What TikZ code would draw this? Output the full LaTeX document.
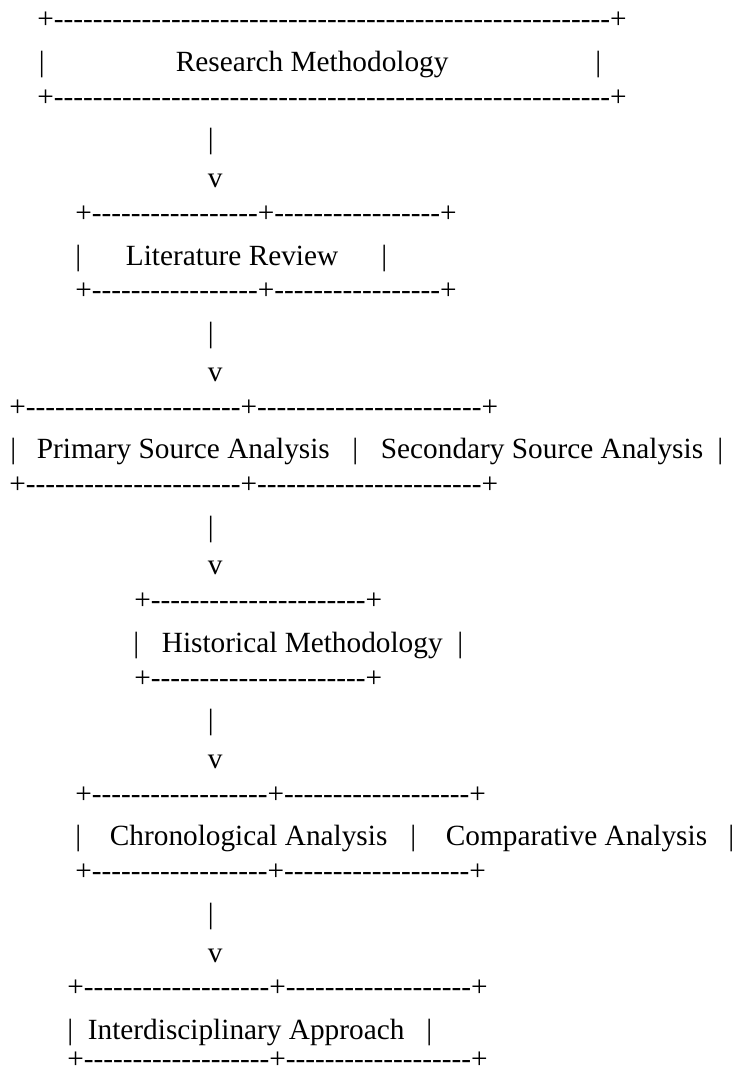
\documentclass[tikz,border=0pt]{standalone}
\usepackage{fontspec}
\setmainfont{Liberation Serif}[Ligatures=TeXOff]
\newcommand{\dashrun}[1]{\foreach\d in {1,...,#1}{-}}

\begin{document}
\begin{tikzpicture}[
    x=0.5pt, y=-0.5pt,
    txt/.style={anchor=base west, inner sep=0pt, font=\fontsize{14.65}{17}\selectfont},
    border/.style={txt, yshift=2pt},
    pipe/.style={txt},
    tip/.style={txt}
  ]
    \useasboundingbox (0,0) rectangle (736,1074);

    \node[border] (rm-top)   at (37,32.8)    {+\dashrun{57}+};
    \node[pipe]   (rm-l)     at (38.6,71.5)  {|};
    \node[txt]    (rm)       at (175.5,71.5) {Research Methodology};
    \node[pipe]   (rm-r)     at (595,71.5)   {|};
    \node[border] (rm-bot)   at (37,110.2)   {+\dashrun{57}+};
    \node[pipe]   (stem1)    at (207.5,149)  {|};
    \node[tip]    (tip1)     at (207.5,187.7) {v};

    \node[border] (lr-top)   at (75,226.4)   {+\dashrun{17}+\dashrun{17}+};
    \node[pipe]   (lr-l)     at (75,265.1)   {|};
    \node[txt]    (lr)       at (125.5,265.1) {Literature Review};
    \node[pipe]   (lr-r)     at (381,265.1)  {|};
    \node[border] (lr-bot)   at (75,303.8)   {+\dashrun{17}+\dashrun{17}+};
    \node[pipe]   (stem2)    at (207.5,342.6) {|};
    \node[tip]    (tip2)     at (207.5,381.3) {v};

    \node[border] (src-top)  at (9,420)      {+\dashrun{22}+\dashrun{23}+};
    \node[pipe]   (src-l)    at (10,458.7)   {|};
    \node[txt]    (prim)     at (36.5,458.7) {Primary Source Analysis};
    \node[pipe]   (src-m)    at (352,458.7)  {|};
    \node[txt]    (sec)      at (380.5,458.7) {Secondary Source Analysis};
    \node[pipe]   (src-r)    at (717,458.7)  {|};
    \node[border] (src-bot)  at (9,497.4)    {+\dashrun{22}+\dashrun{23}+};
    \node[pipe]   (stem3)    at (207.5,536.2) {|};
    \node[tip]    (tip3)     at (207.5,574.9) {v};

    \node[border] (hm-top)   at (134,613.6)  {+\dashrun{22}+};
    \node[pipe]   (hm-l)     at (133,652.3)  {|};
    \node[txt]    (hm)       at (161.5,652.3) {Historical Methodology};
    \node[pipe]   (hm-r)     at (457,652.3)  {|};
    \node[border] (hm-bot)   at (134,691)    {+\dashrun{22}+};
    \node[pipe]   (stem4)    at (207.5,729.8) {|};
    \node[tip]    (tip4)     at (207.5,768.5) {v};

    \node[border] (an-top)   at (75,807.2)   {+\dashrun{18}+\dashrun{19}+};
    \node[pipe]   (an-l)     at (75,845.9)   {|};
    \node[txt]    (chrono)   at (109.5,845.9) {Chronological Analysis};
    \node[pipe]   (an-m)     at (410,845.9)  {|};
    \node[txt]    (comp)     at (445.5,845.9) {Comparative Analysis};
    \node[pipe]   (an-r)     at (728,845.9)  {|};
    \node[border] (an-bot)   at (75,884.6)   {+\dashrun{18}+\dashrun{19}+};
    \node[pipe]   (stem5)    at (207.5,923.4) {|};
    \node[tip]    (tip5)     at (207.5,962.1) {v};

    \node[border] (ia-top)   at (67,1000.8)  {+\dashrun{19}+\dashrun{19}+};
    \node[pipe]   (ia-l)     at (67,1039.5)  {|};
    \node[txt]    (ia)       at (87.5,1039.5) {Interdisciplinary Approach};
    \node[pipe]   (ia-r)     at (426,1039.5) {|};
    \node[border] (ia-bot)   at (67,1072)    {+\dashrun{19}+\dashrun{19}+};
  \end{tikzpicture}
\end{document}
